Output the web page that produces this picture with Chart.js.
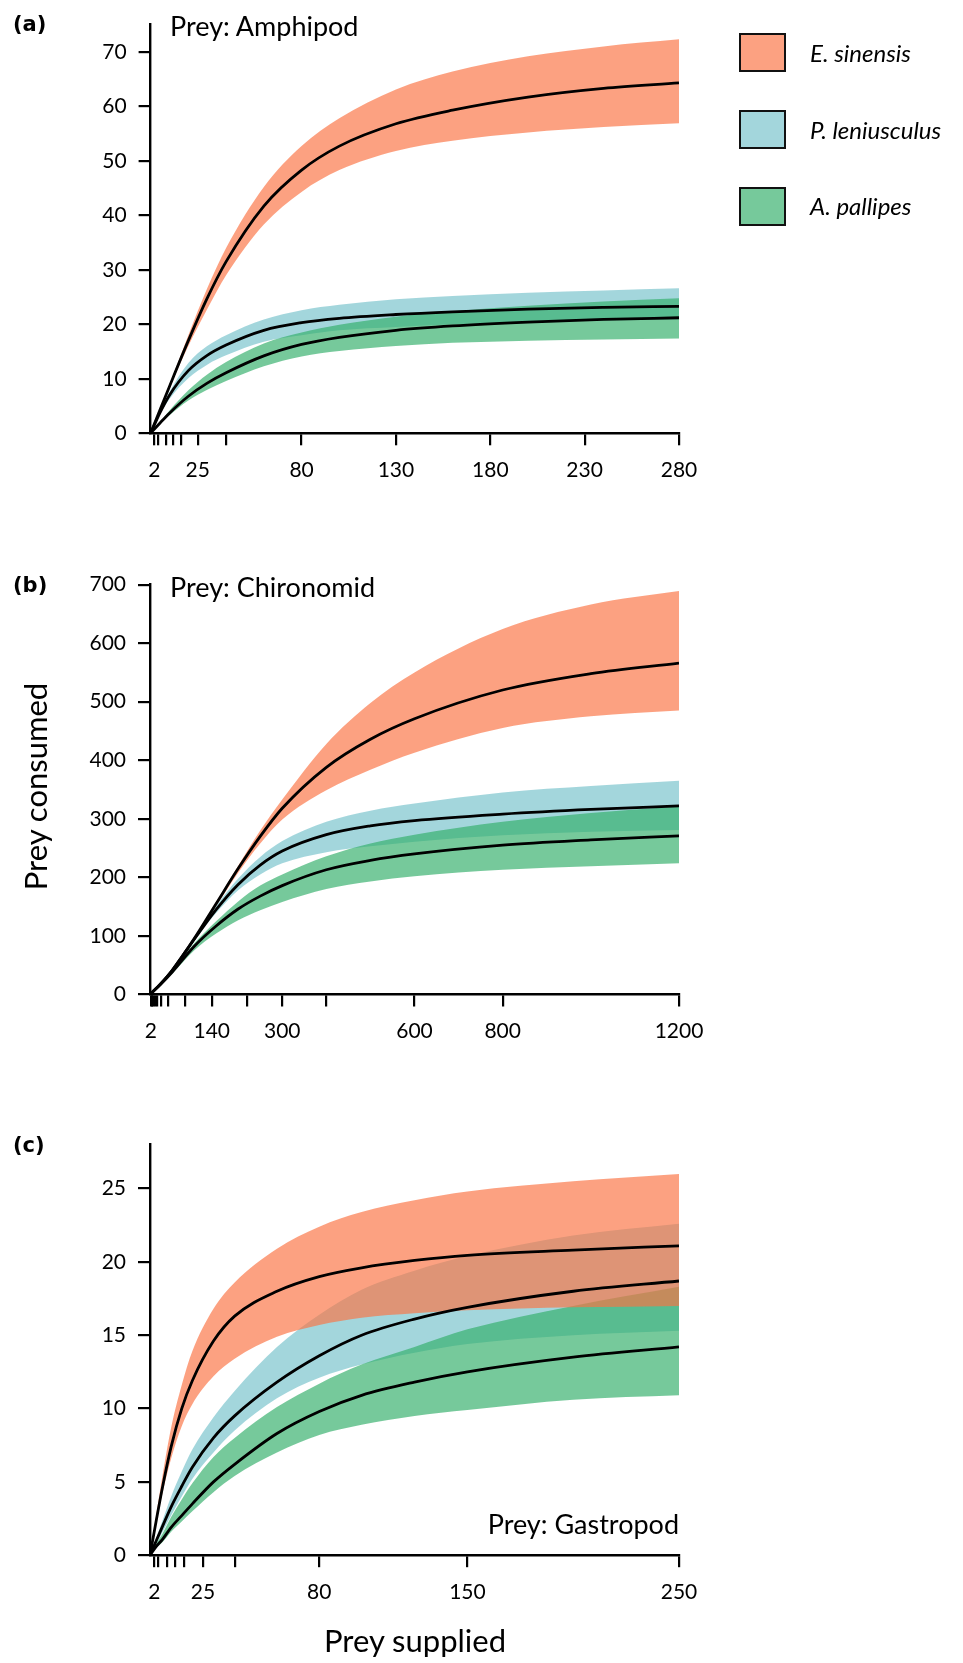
<!DOCTYPE html>
<html>
<head>
<meta charset="utf-8">
<script src="https://cdn.jsdelivr.net/npm/chart.js@4.4.1/dist/chart.umd.min.js"></script>
<style>
  body { margin: 0; background: #fff; width: 963px; height: 1663px; position: relative; overflow: hidden; font-family: Lato, "Open Sans", sans-serif; color: #000; }
  .wrap { position: absolute; left: 0; width: 963px; }
  .t { position: absolute; white-space: nowrap; line-height: 1; }
  .lab { font-family: "DejaVu Sans", sans-serif; font-weight: bold; font-size: 21px; left: 13px; }
  .prey { font-size: 27px; }
  .box { position: absolute; left: 739px; width: 47px; height: 39px; box-sizing: border-box; border: 2.5px solid #111; }
  .leg { font-style: italic; font-size: 24px; left: 810px; }
</style>
</head>
<body>
<div class="wrap" style="top:0;height:500px"><canvas id="ca" width="963" height="500"></canvas></div>
<div class="wrap" style="top:560px;height:500px"><canvas id="cb" width="963" height="500"></canvas></div>
<div class="wrap" style="top:1120px;height:543px"><canvas id="cc" width="963" height="543"></canvas></div>

<div class="t lab" style="top:14px">(a)</div>
<div class="t lab" style="top:575px">(b)</div>
<div class="t lab" style="top:1135px">(c)</div>

<div class="t prey" style="left:170px;top:12px">Prey: Amphipod</div>
<div class="t prey" style="left:170px;top:573px">Prey: Chironomid</div>
<div class="t prey" style="right:284px;top:1510px">Prey: Gastropod</div>

<div class="box" style="top:33px;background:rgb(252,161,129)"></div>
<div class="box" style="top:110px;background:rgb(163,214,220)"></div>
<div class="box" style="top:187px;background:rgb(118,201,155)"></div>
<div class="t leg" style="top:41px">E. sinensis</div>
<div class="t leg" style="top:118px">P. leniusculus</div>
<div class="t leg" style="top:194px">A. pallipes</div>

<div class="t" style="font-size:31px;left:-115px;top:771px;width:300px;text-align:center;transform:rotate(-90deg)">Prey consumed</div>
<div class="t" style="font-size:31px;left:215px;top:1625px;width:400px;text-align:center">Prey supplied</div>

<script>
// colours (alpha over white)
const esColor = 'rgba(251,115,67,0.67)';
const plColor = 'rgba(118,194,203,0.67)';
const apColor = 'rgba(51,174,106,0.67)';

// (a) amphipod
const amphX = [0, 5, 10, 20, 30, 40, 60, 80, 100, 130, 160, 200, 240, 280];
const amphEsMean = [0, 4.3, 8.6, 17.0, 24.8, 31.5, 41.7, 48.3, 52.7, 56.8, 59.3, 61.7, 63.3, 64.3];
const amphEsLow  = [0, 4.2, 8.3, 16.0, 22.8, 29.0, 38.3, 44.3, 48.3, 51.8, 53.7, 55.2, 56.2, 56.9];
const amphEsHigh = [0, 4.4, 8.9, 18.0, 26.6, 34.0, 45.2, 52.7, 57.8, 63.1, 66.4, 69.2, 71.0, 72.3];
const amphPlMean = [0, 3.8, 7.0, 11.5, 14.3, 16.2, 18.9, 20.3, 21.1, 21.8, 22.3, 22.8, 23.1, 23.3];
const amphPlLow  = [0, 3.5, 6.3, 10.1, 12.6, 14.3, 16.8, 18.0, 18.9, 19.5, 20.0, 20.4, 20.7, 20.9];
const amphPlHigh = [0, 4.1, 7.6, 12.9, 16.0, 18.0, 20.9, 22.6, 23.6, 24.6, 25.2, 25.8, 26.2, 26.6];
const amphApMean = [0, 1.9, 3.7, 6.8, 9.2, 11.1, 14.2, 16.3, 17.6, 18.9, 19.7, 20.4, 20.9, 21.2];
const amphApLow  = [0, 1.7, 3.3, 6.0, 8.0, 9.6, 12.3, 14.1, 15.1, 16.0, 16.6, 17.0, 17.2, 17.4];
const amphApHigh = [0, 2.1, 4.2, 7.9, 10.8, 13.1, 16.5, 18.5, 19.9, 21.4, 22.4, 23.4, 24.2, 24.8];
const amphTicks = [2, 4, 8, 12, 16, 25, 40, 80, 130, 180, 230, 280];
const amphLabels = [2, 25, 80, 130, 180, 230, 280];
const amphYTicks = [0, 10, 20, 30, 40, 50, 60, 70];

// (b) chironomid
const chirX = [0, 25, 50, 100, 150, 200, 250, 300, 400, 500, 600, 800, 1000, 1200];
const chirEsMean = [0, 19, 41, 95, 155, 215, 270, 318, 388, 436, 471, 520, 548, 566];
const chirEsLow  = [0, 18.5, 40, 93, 151, 208, 258, 299, 349, 384, 413, 455, 475, 485];
const chirEsHigh = [0, 19.5, 42, 97, 158, 220, 280, 333, 428, 498, 550, 624, 666, 689];
const chirPlMean = [0, 19, 41, 94, 145, 188, 221, 245, 273, 288, 297, 308, 316, 322];
const chirPlLow  = [0, 18.5, 40, 91, 139, 178, 205, 224, 243, 253, 261, 272, 278, 281];
const chirPlHigh = [0, 19.5, 42, 97, 151, 198, 235, 262, 295, 314, 326, 345, 356, 365];
const chirApMean = [0, 18, 38, 82, 117, 146, 168, 186, 213, 229, 240, 255, 264, 271];
const chirApLow  = [0, 17, 35, 75, 104, 127, 144, 158, 180, 193, 202, 213, 219, 224];
const chirApHigh = [0, 19, 40, 87, 125, 159, 186, 205, 236, 258, 273, 295, 310, 321];
const chirTicks = [2, 4, 8, 12, 16, 25, 40, 80, 140, 220, 300, 400, 600, 800, 1200];
const chirLabels = [2, 140, 300, 600, 800, 1200];
const chirYTicks = [0, 100, 200, 300, 400, 500, 600, 700];

// (c) gastropod
const gastX = [0, 3, 6, 10, 15, 20, 30, 40, 60, 80, 100, 125, 150, 200, 250];
const gastEsMean = [0, 2.4, 4.7, 7.4, 10.0, 11.9, 14.6, 16.3, 18.0, 19.0, 19.6, 20.1, 20.45, 20.8, 21.1];
const gastEsLow  = [0, 2.2, 4.3, 6.6, 8.8, 10.3, 12.2, 13.4, 14.9, 15.7, 16.2, 16.5, 16.7, 16.9, 17.0];
const gastEsHigh = [0, 2.8, 5.5, 8.7, 11.6, 13.9, 16.8, 18.6, 20.9, 22.4, 23.4, 24.2, 24.8, 25.5, 26.0];
const gastPlMean = [0, 1.0, 2.0, 3.3, 4.7, 6.0, 8.0, 9.5, 11.8, 13.6, 15.0, 16.1, 16.9, 18.0, 18.7];
const gastPlLow  = [0, 0.8, 1.6, 2.7, 4.0, 5.2, 7.0, 8.5, 10.7, 12.1, 13.0, 13.8, 14.4, 15.0, 15.3];
const gastPlHigh = [0, 1.2, 2.4, 4.0, 5.7, 7.2, 9.4, 11.2, 14.2, 16.4, 18.1, 19.4, 20.4, 21.8, 22.6];
const gastApMean = [0, 0.6, 1.1, 1.9, 2.7, 3.5, 5.0, 6.2, 8.3, 9.8, 10.9, 11.8, 12.5, 13.5, 14.2];
const gastApLow  = [0, 0.5, 0.9, 1.6, 2.3, 3.0, 4.3, 5.4, 7.0, 8.2, 8.9, 9.5, 9.9, 10.6, 10.9];
const gastApHigh = [0, 0.8, 1.5, 2.6, 3.8, 4.9, 6.7, 8.0, 10.1, 11.7, 13.0, 14.2, 15.4, 17.0, 18.3];
const gastTicks = [2, 4, 8, 12, 16, 25, 40, 80, 150, 250];
const gastLabels = [2, 25, 80, 150, 250];
const gastYTicks = [0, 5, 10, 15, 20, 25];

const pts = (xs, ys) => xs.map((x, i) => ({ x: x, y: ys[i] }));

function band(xs, lo, hi, color) {
  return [
    { data: pts(xs, lo), borderWidth: 0, borderColor: 'rgba(0,0,0,0)', pointRadius: 0, fill: false, cubicInterpolationMode: 'monotone' },
    { data: pts(xs, hi), borderWidth: 0, borderColor: 'rgba(0,0,0,0)', pointRadius: 0, fill: '-1', backgroundColor: color, cubicInterpolationMode: 'monotone' }
  ];
}

function meanLine(xs, ys) {
  return { data: pts(xs, ys), borderColor: '#000', borderWidth: 2.8, pointRadius: 0, fill: false, cubicInterpolationMode: 'monotone' };
}

const tickFont = { family: 'Lato', size: 21 };

function makeChart(id, p) {
  const datasets = [
    meanLine(p.x, p.es[0]), meanLine(p.x, p.pl[0]), meanLine(p.x, p.ap[0]),
    ...band(p.x, p.es[1], p.es[2], esColor),
    ...band(p.x, p.ap[1], p.ap[2], apColor),
    ...band(p.x, p.pl[1], p.pl[2], plColor)
  ];
  return new Chart(document.getElementById(id), {
    type: 'line',
    data: { datasets: datasets },
    options: {
      responsive: false,
      animation: false,
      events: [],
      layout: { padding: p.pad },
      plugins: { legend: { display: false }, tooltip: { enabled: false }, filler: { drawTime: 'beforeDatasetsDraw' } },
      scales: {
        x: {
          type: 'linear', min: 0, max: p.xmax,
          afterBuildTicks: s => { s.ticks = p.xticks.map(v => ({ value: v })); },
          afterFit: s => { s.height = 60; },
          grid: { drawOnChartArea: false, drawTicks: true, tickLength: 12, color: '#000', lineWidth: 2.2 },
          border: { display: true, color: '#000', width: 2.4 },
          ticks: { autoSkip: false, maxRotation: 0, padding: 12, color: '#000', font: tickFont,
                   callback: v => p.xlabels.includes(v) ? String(v) : '' }
        },
        y: {
          type: 'linear', min: 0, max: p.ymax,
          afterBuildTicks: s => { s.ticks = p.yticks.map(v => ({ value: v })); },
          afterFit: s => { s.width = 100; },
          grid: { drawOnChartArea: false, drawTicks: true, tickLength: 12, color: '#000', lineWidth: 2.2 },
          border: { display: true, color: '#000', width: 2.4 },
          ticks: { padding: 12, color: '#000', font: tickFont }
        }
      }
    }
  });
}

makeChart('ca', {
  x: amphX, es: [amphEsMean, amphEsLow, amphEsHigh], pl: [amphPlMean, amphPlLow, amphPlHigh], ap: [amphApMean, amphApLow, amphApHigh],
  xmax: 280, ymax: 75, xticks: amphTicks, xlabels: amphLabels, yticks: amphYTicks,
  pad: { left: 50.6, right: 284, top: 15, bottom: 6.7 }
});

makeChart('cb', {
  x: chirX, es: [chirEsMean, chirEsLow, chirEsHigh], pl: [chirPlMean, chirPlLow, chirPlHigh], ap: [chirApMean, chirApLow, chirApHigh],
  xmax: 1200, ymax: 700, xticks: chirTicks, xlabels: chirLabels, yticks: chirYTicks,
  pad: { left: 50, right: 284, top: 16, bottom: 5.5 }
});

makeChart('cc', {
  x: gastX, es: [gastEsMean, gastEsLow, gastEsHigh], pl: [gastPlMean, gastPlLow, gastPlHigh], ap: [gastApMean, gastApLow, gastApHigh],
  xmax: 250, ymax: 28, xticks: gastTicks, xlabels: gastLabels, yticks: gastYTicks,
  pad: { left: 50, right: 284, top: 15.6, bottom: 47.8 }
});
</script>
</body>
</html>
